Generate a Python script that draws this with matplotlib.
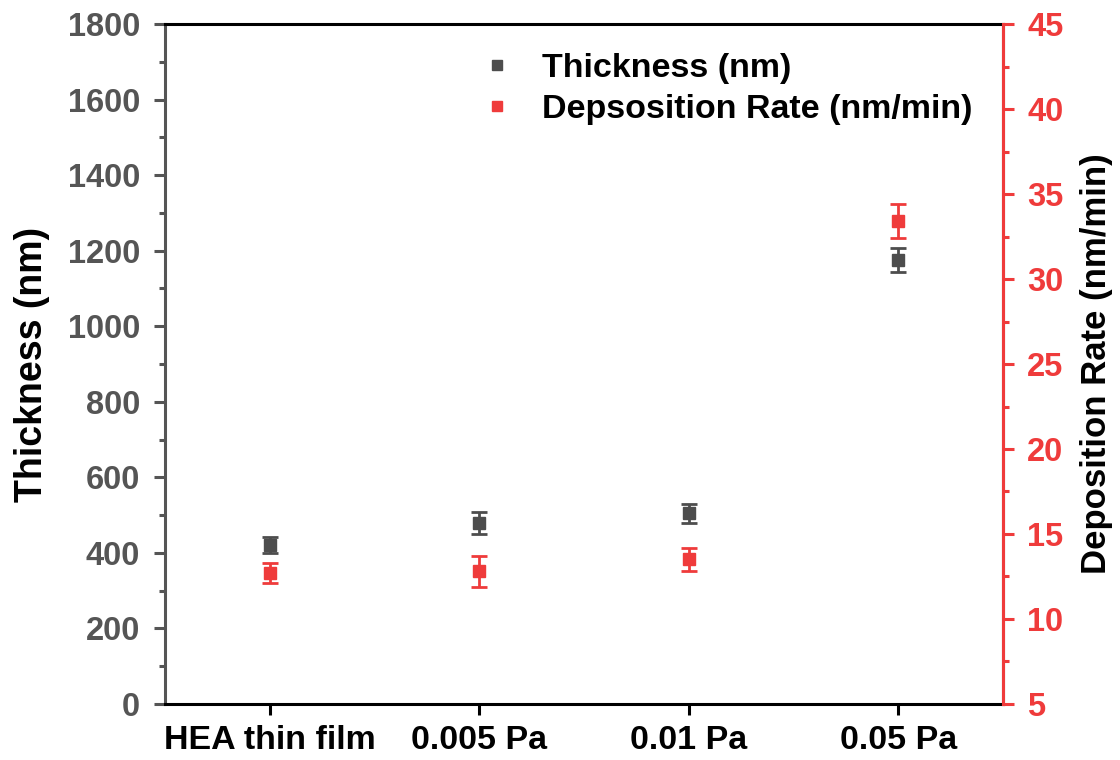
import numpy as np
import matplotlib
matplotlib.use("Agg")
import matplotlib.pyplot as plt
from matplotlib.lines import Line2D
from matplotlib.ticker import MultipleLocator

plt.rcParams.update({
    'font.family': ['Liberation Sans', 'DejaVu Sans'],
    'font.weight': 'bold',
    'axes.labelweight': 'bold',
})

categories = ['HEA thin film', '0.005 Pa', '0.01 Pa', '0.05 Pa']
thickness = [420, 479, 505, 1176]
thickness_err = [21, 30, 25, 32]
rate = [12.7, 12.8, 13.5, 33.4]
rate_err = [0.6, 0.9, 0.7, 1.0]

GRAY = '#4d4d4d'
TICKGRAY = '#555555'
RED = '#ef3b3b'

fig = plt.figure(figsize=(11.2, 7.6), dpi=100)
ax = fig.add_axes([0.1473, 0.0737, 0.7482, 0.8947])
ax2 = ax.twinx()

x = np.arange(len(categories))

ax.errorbar(x, thickness, yerr=thickness_err, fmt='s', color=GRAY, ms=9,
            capsize=6, capthick=2, elinewidth=2)
ax2.errorbar(x, rate, yerr=rate_err, fmt='s', color=RED, ms=9,
             capsize=6, capthick=2, elinewidth=2)

ax.set_xlim(-0.5, 3.5)
ax.set_ylim(0, 1800)
ax2.set_ylim(5, 45)

ax.set_xticks(x)
ax.set_xticklabels(categories, fontsize=24.5, fontweight='bold')
ax.yaxis.set_major_locator(MultipleLocator(200))
ax.yaxis.set_minor_locator(MultipleLocator(100))
ax2.yaxis.set_major_locator(MultipleLocator(5))
ax2.yaxis.set_minor_locator(MultipleLocator(2.5))

for lab in ax.get_yticklabels() + ax2.get_yticklabels():
    lab.set_fontsize(23.5)
    lab.set_fontweight('bold')

ax.set_ylabel('Thickness (nm)', fontsize=27, fontweight='bold', labelpad=13)
ax2.set_ylabel('Deposition Rate (nm/min)', fontsize=25, fontweight='bold', labelpad=12)

# spines
for a in (ax, ax2):
    for s in a.spines.values():
        s.set_linewidth(2.2)
ax.spines['top'].set_color('black')
ax.spines['bottom'].set_color('black')
ax.spines['left'].set_color(TICKGRAY)
ax2.spines['right'].set_color(RED)
ax2.spines['left'].set_visible(False)
ax2.spines['top'].set_visible(False)
ax2.spines['bottom'].set_visible(False)

ax.tick_params(axis='x', which='major', direction='out', length=8, width=2.2,
               color='black', labelcolor='black', pad=7)
ax.tick_params(axis='y', which='major', direction='out', length=8, width=2.2,
               color=TICKGRAY, labelcolor=TICKGRAY, pad=10)
ax.tick_params(axis='y', which='minor', direction='out', length=4, width=2.2,
               color=TICKGRAY)
ax2.tick_params(axis='y', which='major', direction='out', length=8, width=2.2,
                color=RED, labelcolor=RED, pad=9.5)
ax2.tick_params(axis='y', which='minor', direction='out', length=4, width=2.2,
                color=RED)

handles = [Line2D([], [], ls='none', marker='s', ms=7, color=GRAY),
           Line2D([], [], ls='none', marker='s', ms=7, color=RED)]
ax.legend(handles, ['Thickness (nm)', 'Depsosition Rate (nm/min)'],
          loc='upper left', bbox_to_anchor=(0.339, 1.003), frameon=False,
          fontsize=24.5, handlelength=1.0, handletextpad=0.83,
          labelspacing=0.3)

fig.savefig('out.png', dpi=100)
